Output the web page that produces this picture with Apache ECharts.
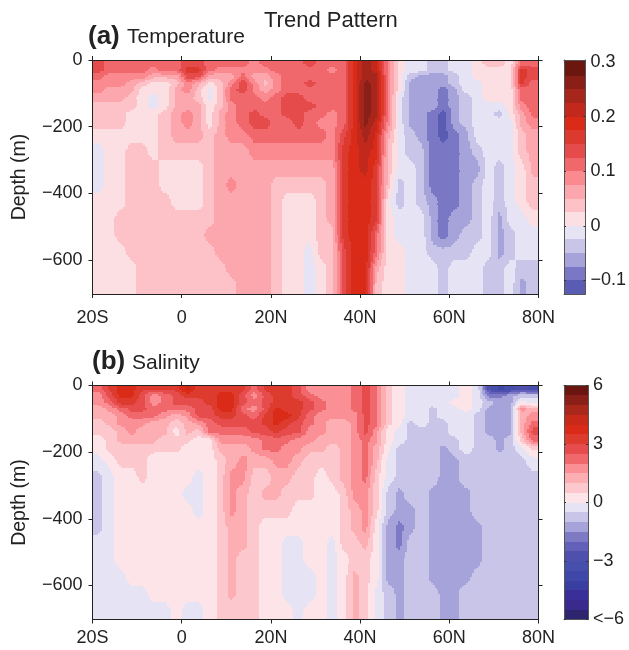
<!DOCTYPE html>
<html>
<head>
<meta charset="utf-8">
<style>html,body{margin:0;padding:0;background:#fff}#c{width:629px;height:650px}</style>
<script src="https://cdn.jsdelivr.net/npm/echarts@6/dist/echarts.min.js"></script>
</head>
<body>
<div id="c"></div>
<script>
// cell edges of the read-off grid
const latEdges = [-20,-17.5,-15,-12.5,-10,-7.5,-5,-2.5,0,2.5,5,7.5,10,12.5,15,17.5,20,22.5,25,27.5,30,32.5,35,37.5,40,42.5,45,47.5,50,52.5,55,57.5,60,62.5,65,67.5,70,72.5,75,77.5,80];
const depthEdges = [0,20,40,60,80,100,125,150,175,200,250,300,350,400,450,500,550,600,650,702];

// temperature trend (hundredths), one row per depth layer, 20S to 80N
const t010 = [14,11,11,11,11,11,11,11,14,14,11,11,11,11,9,11,11,11,11,14,11,11,11,19,24,21,9,1,-1,-1,-4,-4,-1,-1,1,4,4,1,11,11];
const t030 = [14,11,11,11,11,9,11,11,16,16,11,9,9,9,9,9,11,11,11,11,11,9,11,19,24,21,9,1,-1,-1,-4,-4,-1,-1,1,1,1,1,16,14];
const t050 = [11,9,9,9,9,6,6,6,14,14,6,6,6,11,6,6,9,11,11,11,11,11,11,19,24,24,9,1,-4,-6,-6,-6,-4,-1,1,1,1,1,16,14];
const t070 = [9,9,9,6,4,1,1,4,9,6,1,4,9,14,9,4,9,11,11,14,11,11,11,19,26,24,9,1,-6,-6,-6,-6,-4,-1,-1,1,1,1,16,11];
const t090 = [9,6,6,6,1,1,1,6,9,4,-1,4,11,14,9,6,9,11,11,11,11,11,11,19,26,24,9,1,-6,-6,-6,-9,-6,-1,-1,1,1,1,11,11];
const t112 = [6,6,6,4,1,-1,1,6,6,4,-1,4,11,11,11,9,11,14,14,11,11,11,11,19,26,24,9,-1,-6,-6,-6,-9,-6,-4,-1,1,1,1,11,11];
const t137 = [4,4,4,4,1,-1,1,6,6,6,1,4,9,11,11,11,11,14,14,14,11,11,11,19,26,24,9,-1,-6,-6,-6,-9,-6,-4,-1,-1,-1,1,9,11];
const t162 = [4,4,4,1,1,1,4,6,9,6,1,6,9,11,14,11,11,14,14,11,11,9,11,19,26,24,9,-1,-6,-6,-9,-11,-6,-4,-1,-1,-4,1,6,11];
const t187 = [4,4,4,1,1,1,4,6,9,6,1,6,9,11,14,14,11,11,14,11,9,9,11,19,26,21,9,-1,-6,-6,-9,-11,-6,-4,-1,-1,-1,-1,6,9];
const t225 = [1,1,1,1,1,1,4,6,6,6,4,6,9,9,11,11,11,11,11,11,11,9,14,19,24,19,6,-1,-4,-6,-9,-11,-9,-6,-1,-1,-1,-1,4,6];
const t275 = [-1,1,1,4,4,1,4,4,4,4,4,6,6,6,9,9,9,9,9,9,9,9,16,19,21,19,4,-1,-4,-4,-9,-9,-9,-6,-4,-1,-1,-1,4,6];
const t325 = [-1,1,1,4,4,4,1,1,1,1,4,6,6,6,6,6,6,6,6,6,6,6,16,19,21,16,4,-1,-1,-4,-9,-9,-9,-6,-6,-1,-4,-1,1,6];
const t375 = [-1,1,1,4,4,4,1,1,1,1,4,6,9,6,6,6,4,4,4,4,4,6,16,19,19,16,4,-4,-1,-4,-9,-9,-9,-6,-4,-1,-4,-1,1,4];
const t425 = [1,1,1,4,4,4,4,1,1,1,4,6,6,6,6,6,4,1,1,1,4,6,16,19,19,16,1,-4,-1,-4,-6,-9,-9,-6,-4,-1,-4,-1,1,4];
const t475 = [1,1,4,4,4,4,4,4,4,4,4,6,6,6,6,6,4,1,1,1,4,6,16,19,19,16,1,-1,-1,-1,-6,-9,-6,-6,-4,-1,-6,-1,-1,1];
const t525 = [1,1,4,4,4,4,4,4,4,4,6,6,6,6,6,6,4,1,1,1,4,4,16,19,19,11,1,-1,-1,-1,-6,-9,-6,-4,-4,-1,-6,-4,-1,-1];
const t575 = [1,1,1,4,4,4,4,4,4,4,4,6,6,6,6,6,4,1,1,-1,4,4,14,19,19,11,1,1,-1,-1,-4,-4,-4,-4,-1,-1,-6,-4,-1,-1];
const t625 = [1,1,1,1,4,4,4,4,4,4,4,4,6,6,6,6,4,1,1,-1,1,4,14,19,19,6,1,1,-1,-1,-1,-4,-1,-1,-1,-4,-4,-1,-4,-4];
const t675 = [1,1,1,1,4,4,4,4,4,4,4,4,4,6,6,6,4,1,1,-1,1,4,14,19,19,4,1,1,-1,-1,-1,-4,-1,-1,-1,-4,-4,-1,-6,-4];
const tempRows = [t010,t030,t050,t070,t090,t112,t137,t162,t187,t225,t275,t325,t375,t425,t475,t525,t575,t625,t675];

// salinity trend, one row per depth layer, 20S to 80N
const s010 = [2.2,3.2,3.7,3.7,3.2,3.2,3.2,3.2,4.2,3.2,3.2,3.2,3.2,3.2,2.2,3.2,3.2,3.2,2.7,1.7,1.7,1.7,1.7,2.2,2.7,2.2,.7,.2,-.2,-.2,-.2,-.2,-.2,.2,-.2,-2.7,-3.7,-3.2,-2.7,-3.2];
const s030 = [1.7,2.7,3.7,3.7,2.7,1.7,2.2,2.7,3.2,3.2,3.2,3.7,3.7,2.7,1.7,2.7,3.2,3.2,2.7,2.2,1.7,1.7,1.7,2.2,2.7,2.2,.7,.2,-.2,-.2,-.2,-.2,-.2,.2,-.2,-1.7,-1.7,-1.2,-.7,-.7];
const s050 = [1.7,2.2,3.2,3.2,2.7,1.7,2.2,2.7,2.7,2.7,3.2,3.7,3.7,2.7,2.2,2.7,3.2,3.2,3.2,2.7,2.2,1.7,1.7,2.2,2.7,2.2,.7,.2,-.2,-.2,-.2,-.2,.2,.2,-.2,-.7,-1.2,-1.2,.2,-.2];
const s070 = [1.2,1.7,2.2,2.7,2.7,2.2,2.2,2.2,2.2,2.7,2.7,3.7,3.7,2.2,1.7,2.7,3.7,3.2,3.2,2.7,2.2,1.7,1.7,2.2,2.7,2.2,.7,.2,-.2,-.2,-.7,-.2,-.2,.2,-.2,-1.2,-1.2,-1.2,1.7,1.2];
const s090 = [1.2,1.2,1.7,2.2,2.2,2.2,1.7,1.2,1.7,2.7,2.7,3.2,3.2,2.7,2.2,3.2,3.7,3.7,3.2,2.2,1.7,1.7,1.7,1.7,2.7,2.2,.7,.2,-.2,-.2,-.7,-.2,-.2,-.2,-.7,-1.2,-1.2,-1.2,1.2,1.7];
const s112 = [.7,1.2,1.7,1.7,1.7,1.2,1.2,.7,1.2,1.7,2.2,2.7,2.7,2.7,2.7,3.2,3.7,3.2,2.7,2.2,1.7,1.2,1.2,1.7,2.7,2.2,.7,.2,-.7,-.2,-.7,-.7,-.2,-.2,-.7,-1.2,-1.2,-1.2,1.2,2.2];
const s137 = [.7,.7,1.2,1.7,1.2,1.2,1.2,.2,1.2,.7,2.2,2.2,2.2,2.2,2.7,2.7,3.2,2.7,2.7,1.7,1.7,1.2,1.2,1.7,2.7,1.7,.2,-.2,-.7,-.7,-.7,-.7,-.2,-.2,-.7,-1.2,-1.2,-1.2,1.2,2.7];
const s162 = [.2,.7,1.2,1.2,1.2,1.2,.7,.7,.7,.2,.2,1.7,1.7,1.7,1.7,2.2,2.2,2.2,1.7,1.7,1.2,1.2,1.2,1.7,2.2,1.7,.2,-.2,-.7,-.7,-.7,-.7,-.7,-.2,-.7,-.7,-1.2,-.7,.7,2.2];
const s187 = [.2,.7,.7,.7,.7,.7,.7,.7,.2,.2,.2,1.2,1.2,1.2,1.7,2.2,2.2,1.7,1.7,1.2,1.2,.7,1.2,1.7,2.2,1.2,.2,-.7,-.7,-.7,-.7,-1.2,-.7,-.2,-.7,-.7,-1.2,-.7,-.2,.7];
const s225 = [-.2,.2,.7,.7,.7,.2,.2,.2,.2,.2,.2,.7,1.2,1.7,1.2,1.2,1.7,1.7,1.2,.7,.7,.7,1.2,1.7,2.2,1.2,-.2,-.7,-.7,-.7,-.7,-1.2,-1.2,-.7,-.7,-.7,-.7,-.7,-.7,-.2];
const s275 = [-.7,-.2,.2,.2,.7,.2,.2,.2,.2,-.2,.2,.7,1.7,1.7,.7,.7,1.2,1.2,.7,.7,.2,.7,1.2,1.7,2.2,.7,-.2,-.7,-.7,-.7,-.7,-1.2,-1.2,-.7,-.7,-.7,-.7,-.7,-.7,-.7];
const s325 = [-.7,-.2,.2,.2,.2,.2,.2,.2,-.2,-.2,.2,.7,1.7,1.2,.7,1.2,1.2,.7,.7,.7,.2,.2,.7,1.7,1.7,.7,-.7,-1.2,-.7,-.7,-1.2,-1.2,-1.2,-1.2,-.7,-.7,-.7,-.7,-.7,-.7];
const s375 = [-.7,-.2,.2,.2,.2,.2,.2,.2,.2,-.2,.2,.7,1.7,1.2,.7,.7,.7,.7,.2,.2,.2,.2,.7,1.2,1.7,.7,-.7,-1.2,-1.2,-.7,-1.2,-1.2,-1.2,-1.2,-.7,-.7,-.7,-.7,-.7,-.7];
const s425 = [-.7,-.2,.2,.2,.2,.2,.2,.2,.2,.2,.2,.7,1.2,1.2,.7,.2,.2,.2,.2,.2,.2,.2,.7,1.2,1.7,.2,-1.2,-1.7,-1.2,-.7,-1.2,-1.2,-1.2,-1.2,-1.2,-.7,-.7,-.7,-.7,-.7];
const s475 = [-.2,-.2,.2,.2,.2,.2,.2,.2,.2,.2,.2,.7,1.2,1.2,.7,.2,.2,-.2,-.2,.2,.2,-.2,.7,.7,1.2,.2,-1.2,-1.7,-.7,-.7,-1.2,-1.2,-1.2,-1.2,-1.2,-.7,-.7,-.7,-.7,-.7];
const s525 = [-.2,-.2,.2,.2,.2,.2,.2,.2,.2,.2,.2,.7,1.2,.7,.7,.2,.2,-.2,-.2,.2,.2,-.2,.2,.7,.7,.2,-1.2,-1.2,-.7,-.7,-1.2,-1.2,-1.2,-1.2,-1.2,-.7,-.7,-.7,-.7,-.7];
const s575 = [-.2,-.2,-.2,.2,.2,.2,.2,.2,.2,.2,.2,.7,1.2,.7,.7,.2,.2,-.2,-.2,-.2,.2,-.2,.2,1.2,.7,.2,-1.2,-1.2,-.7,-.7,-1.2,-1.2,-1.2,-1.2,-.7,-.7,-.7,-.7,-.7,-.7];
const s625 = [-.2,-.2,-.2,-.2,-.2,.2,.2,.2,.2,.2,.2,.7,1.2,.7,.7,.2,.2,-.2,-.2,-.2,.2,-.2,.2,1.2,.7,-.2,-.7,-1.2,-.7,-.7,-.7,-1.2,-1.2,-.7,-.7,-.7,-.7,-.7,-.7,-.7];
const s675 = [-.2,-.2,-.2,-.2,-.2,-.2,-.2,.2,-.2,-.2,.2,.7,.7,.7,.7,.2,.2,.2,-.2,.2,.2,-.2,.2,1.2,.7,-.2,-.7,-1.2,-.7,-.7,-.7,-1.2,-1.2,-.7,-.7,-.7,-.7,-.7,-.7,-.7];
const salRows = [s010,s030,s050,s070,s090,s112,s137,s162,s187,s225,s275,s325,s375,s425,s475,s525,s575,s625,s675];

// contour levels and their fills, low to high
const tempLevels = [-12.5,-10,-7.5,-5,-2.5,0,2.5,5,7.5,10,12.5,15,17.5,20,22.5,25,27.5,30.4];
const tempColors = ['#5a5cb4','#7a78c4','#a6a2da','#c9c5e8','#e6e4f4','#fbdfe3','#fdc2c8','#fca7ad','#fa8a90','#f1686c','#e64b4b','#dc3a2e','#da2b18','#c2281b','#a6261c','#8a1f18','#6c1610'];
const salLevels = [-6,-5.5,-5,-4.5,-4,-3.5,-3,-2.5,-2,-1.5,-1,-.5,0,.5,1,1.5,2,2.5,3,3.5,4,4.5,5,5.5,6];
const salColors = ['#2e2570','#3b2a8e','#3a2f98','#3a3ea0','#3f48a8','#4650ac','#4f50ae','#6260b8','#7e7ac6','#a6a2da','#c9c5e8','#e6e4f4','#fce4e8','#fdc8cd','#fcaeb3','#fa9096','#f0686c','#e64c4c','#dc3b2e','#da2a18','#c82a1a','#aa271c','#8a1f18','#6a1510'];

const latTicks = [-20,0,20,40,60,80];
const latTickLabels = ['20S','0','20N','40N','60N','80N'];
const depthTicks = [0,-200,-400,-600];
const tempBarTicks = [30,20,10,0,-10];
const tempBarLabels = ['0.3','0.2','0.1','0','\u22120.1'];
const salBarTicks = [6,3,0,-3,-6];
const salBarLabels = ['6','3','0','\u22123','<\u22126'];

const INK = '#222';
const FONT = '"Liberation Sans", Arial, sans-serif';

function bandColor(v, levels, colors) {
  for (let i = 0; i < colors.length; i++) if (v < levels[i + 1]) return colors[i];
  return colors[colors.length - 1];
}
function cells(rows) {
  const out = [];
  rows.forEach((row, j) => row.forEach((v, i) => {
    out.push([latEdges[i], latEdges[i + 1], -depthEdges[j], -depthEdges[j + 1], v]);
  }));
  return out;
}
const latMids = latEdges.slice(1).map((e, i) => (e + latEdges[i]) / 2);
const depthMids = depthEdges.slice(1).map((e, i) => (e + depthEdges[i]) / 2);
function bracket(mids, x) {
  if (x <= mids[0]) return [0, 0, 0];
  const n = mids.length - 1;
  if (x >= mids[n]) return [n, n, 0];
  let k = 0;
  while (mids[k + 1] < x) k++;
  return [k, k + 1, (x - mids[k]) / (mids[k + 1] - mids[k])];
}
// The contour band at a point, as a contour fill finds it between the read grid nodes.
function fieldAt(rows, lat, depth) {
  const [i0, i1, u] = bracket(latMids, lat);
  const [j0, j1, w] = bracket(depthMids, depth);
  const top = rows[j0][i0] * (1 - u) + rows[j0][i1] * u;
  const bot = rows[j1][i0] * (1 - u) + rows[j1][i1] * u;
  return top * (1 - w) + bot * w;
}
function fieldSeries(idx, rows, levels, colors) {
  const STEP = 2;
  return {
    type: 'custom', xAxisIndex: idx, yAxisIndex: idx, clip: true, silent: true,
    data: cells(rows),
    encode: { x: [0, 1], y: [2, 3] },
    renderItem: (p, api) => {
      const lat0 = api.value(0), lat1 = api.value(1), d0 = -api.value(2), d1 = -api.value(3);
      const a = api.coord([lat0, -d0]), b = api.coord([lat1, -d1]);
      const l = Math.round(a[0]), r = Math.round(b[0]), t = Math.round(a[1]), d = Math.round(b[1]);
      const children = [];
      for (let py = t; py < d; py += STEP) {
        const h = Math.min(STEP, d - py);
        const depth = d0 + (py + h / 2 - t) / (d - t) * (d1 - d0);
        let runStart = l, runColor = null;
        for (let px = l; px <= r; px += STEP) {
          const end = px >= r;
          const c = end ? null : bandColor(fieldAt(rows, lat0 + (px + 1 - l) / (r - l) * (lat1 - lat0), depth), levels, colors);
          if (c !== runColor) {
            if (runColor) children.push({ type: 'rect', shape: { x: runStart, y: py, width: Math.min(px, r) - runStart, height: h }, style: { fill: runColor } });
            runStart = px; runColor = c;
          }
          if (!end && px + STEP > r) { px = r - STEP; }
        }
      }
      return { type: 'group', children: children };
    }
  };
}
function barSeries(idx, levels, colors) {
  const data = colors.map((c, i) => [levels[i], levels[i + 1], i]);
  return {
    type: 'custom', xAxisIndex: idx, yAxisIndex: idx, clip: true, silent: true,
    data: data, encode: { y: [0, 1] },
    renderItem: (p, api) => {
      const a = api.coord([0, api.value(1)]), b = api.coord([1, api.value(0)]);
      const t = Math.round(a[1]), d = Math.round(b[1]);
      return { type: 'rect', shape: { x: a[0], y: t, width: b[0] - a[0], height: d - t }, style: { fill: colors[api.value(2)] } };
    }
  };
}

const panelTops = [60, 385.5];
const xLabelMargins = [15, 10];
const barRanges = [[-12.5, 30.4], [-6, 6]];
const barTickSets = [tempBarTicks, salBarTicks];
const barLabelSets = [tempBarLabels, salBarLabels];
const grids = [], xAxes = [], yAxes = [];
const axLine = { show: true, onZero: false, lineStyle: { color: INK, width: 1 } };
const noLabel = { show: false };
panelTops.forEach((top) => {
  grids.push({ left: 92.5, width: 446, top: top, height: 234 });
});
panelTops.forEach((top) => {
  grids.push({ left: 564, width: 24, top: top, height: 234 });
});
[0, 1].forEach((g) => {
  xAxes.push({
    gridIndex: g, type: 'value', min: -20, max: 80, interval: 20, position: 'bottom', z: 5,
    axisLine: axLine, axisTick: { show: true, inside: false, length: 4, lineStyle: { color: INK } },
    splitLine: { show: false },
    axisLabel: { color: INK, fontSize: 18, fontFamily: FONT, margin: xLabelMargins[g],
      formatter: (v) => latTickLabels[latTicks.indexOf(v)] }
  });
  yAxes.push({
    gridIndex: g, type: 'value', min: -702, max: 0, position: 'left', z: 5,
    name: 'Depth (m)', nameLocation: 'middle', nameGap: 63, nameRotate: 90,
    nameTextStyle: { color: INK, fontSize: 19.5, fontFamily: FONT, padding: [0, 0, 0, 0] },
    axisLine: axLine,
    axisTick: { show: true, length: 4, lineStyle: { color: INK }, customValues: depthTicks },
    splitLine: { show: false },
    axisLabel: { color: INK, fontSize: 18, fontFamily: FONT, margin: 10, padding: [4, 0, 0, 0], customValues: depthTicks,
      formatter: (v) => String(v).replace('-', '\u2212') }
  });
});
[0, 1].forEach((k) => {
  const g = k + 2;
  xAxes.push({ gridIndex: g, type: 'value', min: 0, max: 1, position: 'bottom', z: 5,
    axisLine: { show: true, onZero: false, lineStyle: { color: '#555', width: 1 } },
    axisTick: noLabel, axisLabel: noLabel, splitLine: noLabel });
  yAxes.push({ gridIndex: g, type: 'value', min: barRanges[k][0], max: barRanges[k][1], position: 'right', z: 5,
    axisLine: { show: true, onZero: false, lineStyle: { color: '#555', width: 1 } },
    axisTick: { show: true, inside: true, length: 2, lineStyle: { color: '#333' }, customValues: barTickSets[k] },
    splitLine: noLabel,
    axisLabel: { color: INK, fontSize: 18, fontFamily: FONT, margin: 5, padding: [4, 0, 0, 0], customValues: barTickSets[k],
      formatter: (v) => barLabelSets[k][barTickSets[k].indexOf(v)] } });
});
[0, 1].forEach((g) => {
  xAxes.push({ gridIndex: g, type: 'value', min: -20, max: 80, interval: 20, position: 'top', z: 5,
    axisLine: axLine, axisTick: { show: true, length: 4, lineStyle: { color: INK } }, axisLabel: noLabel, splitLine: noLabel });
  yAxes.push({ gridIndex: g, type: 'value', min: -702, max: 0, position: 'right', z: 5,
    axisLine: axLine, axisTick: { show: true, length: 4, lineStyle: { color: INK }, customValues: depthTicks }, axisLabel: noLabel, splitLine: noLabel });
});
[0, 1].forEach((k) => {
  const g = k + 2;
  xAxes.push({ gridIndex: g, type: 'value', min: 0, max: 1, position: 'top', z: 5,
    axisLine: { show: true, onZero: false, lineStyle: { color: '#555', width: 1 } }, axisTick: noLabel, axisLabel: noLabel, splitLine: noLabel });
  yAxes.push({ gridIndex: g, type: 'value', min: barRanges[k][0], max: barRanges[k][1], position: 'left', z: 5,
    axisLine: { show: true, onZero: false, lineStyle: { color: '#555', width: 1 } },
    axisTick: { show: true, inside: true, length: 2, lineStyle: { color: '#333' }, customValues: barTickSets[k] },
    axisLabel: noLabel, splitLine: noLabel });
});

const txt = (text, left, top, size, weight) => ({
  text: text, left: left, top: top, padding: 0,
  textStyle: { color: INK, fontSize: size, fontWeight: weight || 'normal', fontFamily: FONT }
});

const chart = echarts.init(document.getElementById('c'), null, { renderer: 'canvas' });
chart.setOption({
  animation: false,
  backgroundColor: '#fff',
  title: [
    txt('Trend Pattern', 264, 10, 22),
    txt('(a)', 88, 24, 26, 'bold'),
    txt('Temperature', 127, 27, 21),
    txt('(b)', 92, 349, 26, 'bold'),
    txt('Salinity', 132, 353, 21)
  ],
  grid: grids, xAxis: xAxes, yAxis: yAxes,
  series: [
    fieldSeries(0, tempRows, tempLevels, tempColors),
    fieldSeries(1, salRows, salLevels, salColors),
    barSeries(2, tempLevels, tempColors),
    barSeries(3, salLevels, salColors)
  ]
});
</script>
</body>
</html>
